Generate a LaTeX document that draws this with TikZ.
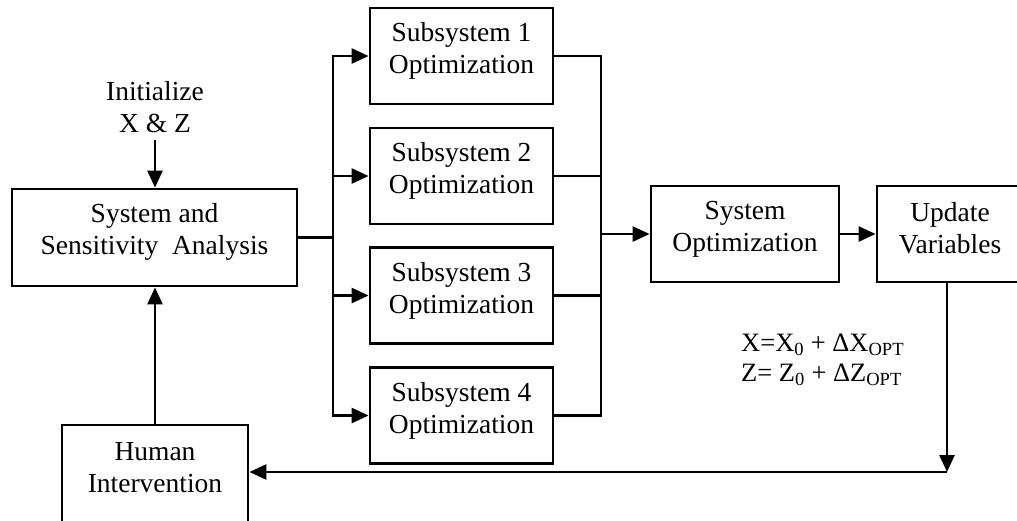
\documentclass[tikz,border=0pt]{standalone}
\usepackage{fontspec}
\setmainfont{Liberation Serif}
\usetikzlibrary{arrows.meta}
\begin{document}
\begin{tikzpicture}[x=1pt,y=-1pt,
  box/.style={draw,line width=2.8pt,inner sep=0pt},
  lbl/.style={align=center,inner sep=0pt,font=\fontsize{27.5}{32}\selectfont},
  conn/.style={line width=2.6pt,line cap=rect},
  arr/.style={line width=2.6pt,-{Triangle[length=17pt,width=15pt]}}]
\useasboundingbox (0,0) rectangle (1017,520);
\clip (0,0) rectangle (1017,520);
% boxes
\node[box,minimum width=285pt,minimum height=97pt] (ssa) at (154.5,237.5) {};
\node[lbl] at ([yshift=6pt]ssa.center) {System and\\Sensitivity\ \ Analysis};
\foreach \i/\y in {1/56,2/176,3/295.5,4/415.5}{
  \node[box,minimum width=183pt,minimum height=96pt] (s\i) at (461.5,\y) {};
  \node[lbl] at ([yshift=5pt]s\i.center) {Subsystem \i\\Optimization};
}
\node[box,minimum width=188pt,minimum height=96pt] (sysopt) at (745,234) {};
\node[lbl] at ([yshift=5pt]sysopt.center) {System\\Optimization};
\node[box,minimum width=146pt,minimum height=96pt] (upd) at (950,234) {};
\node[lbl] at ([yshift=6pt]upd.center) {Update\\Variables};
\node[box,minimum width=186pt,minimum height=98pt] (hi) at (155,474) {};
\node[lbl] at ([yshift=6pt]hi.center) {Human\\Intervention};
% texts
\node[lbl] (init) at (155,107) {Initialize\\X \& Z};
\node[anchor=west,align=left,inner sep=0pt,font=\fontsize{26.5}{30}\selectfont] (eq) at (741,360)
  {X=X\textsubscript{0} + ΔX\textsubscript{OPT}\\Z= Z\textsubscript{0} + ΔZ\textsubscript{OPT}};
% connectors
\coordinate (initend) at (155,140);
\draw[arr] (initend) -- (initend |- ssa.north);
\coordinate (bL) at (333,0);
\coordinate (bR) at (601,0);
\draw[conn] (ssa.east) -- (bL |- ssa.east);
\draw[conn] (bL |- s1.west) -- (bL |- s4.west);
\foreach \i in {1,2,3,4}{
  \draw[arr] (bL |- s\i.west) -- (s\i.west);
  \draw[conn] (s\i.east) -- (bR |- s\i.east);
}
\draw[conn] (bR |- s1.east) -- (bR |- s4.east);
\draw[arr] (bR |- sysopt.west) -- (sysopt.west);
\draw[arr] (sysopt.east) -- (upd.west);
\coordinate (fb) at (947,472);
\draw[arr] (upd.south -| fb) -- (fb);
\draw[arr] (fb) -- (hi.east |- fb);
\draw[arr] (hi.north) -- (hi.north |- ssa.south);
\end{tikzpicture}
\end{document}
